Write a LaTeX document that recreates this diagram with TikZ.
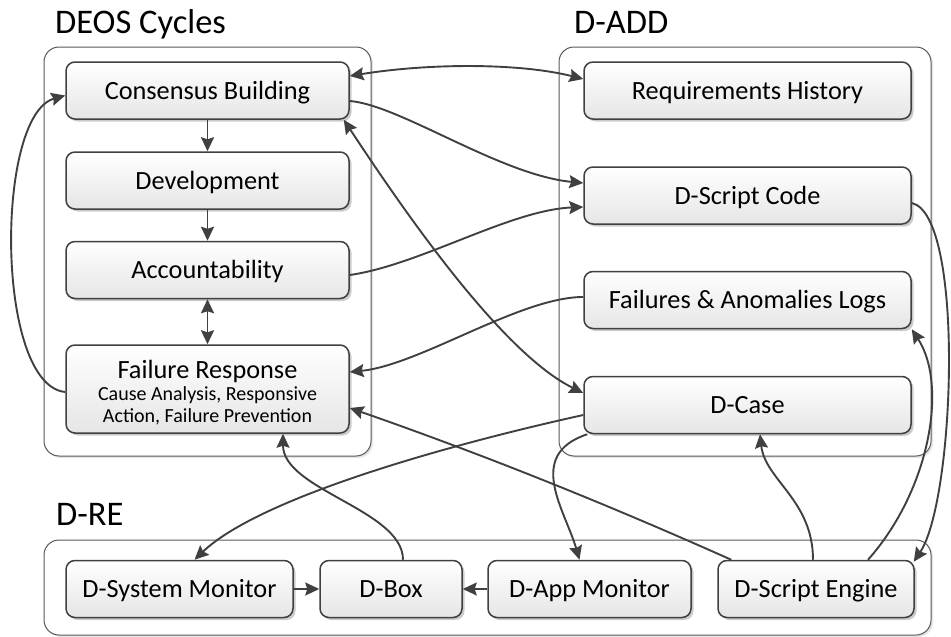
\documentclass[tikz,border=0pt]{standalone}
\usepackage{fontspec}
\setmainfont{Carlito}
\usetikzlibrary{arrows.meta,shadows,calc}
\definecolor{ln}{HTML}{404040}
\begin{document}
\begin{tikzpicture}[x=1pt,y=-1pt,
  box/.style={draw=ln, line width=1.5pt, rounded corners=9pt, top color=white, bottom color=black!10,
    drop shadow={shadow xshift=2.5pt, shadow yshift=-2.5pt, fill=black, opacity=0.2},
    inner sep=0pt, font=\fontsize{26.3}{28}\selectfont, text=black},
  onel/.style={text height=17.5pt, text depth=0pt},
  grp/.style={draw=black!65, line width=1pt, rounded corners=15pt, inner sep=0pt,
    drop shadow={shadow xshift=2pt, shadow yshift=-2pt, fill=black, opacity=0.1}, fill=white},
  conn/.style={draw=ln, line width=1.9pt, -{Stealth[length=14pt,width=13pt,inset=2pt]}},
  biconn/.style={draw=ln, line width=1.9pt, {Stealth[length=14pt,width=13pt,inset=2pt]}-{Stealth[length=14pt,width=13pt,inset=2pt]}},
  title/.style={font=\fontsize{34.5}{36}\selectfont, anchor=base west, inner sep=0pt}]
\useasboundingbox (0,0) rectangle (951,637);

% containers
\node[grp, minimum width=327, minimum height=409] (deos) at (207.5,251.5) {};
\node[grp, minimum width=372, minimum height=409] (dadd) at (745,251.5) {};
\node[grp, minimum width=887, minimum height=95] (dre) at (487.5,587.5) {};

% titles
\node[title] (tdeos) at (55,33) {DEOS Cycles};
\node[title] (tdadd) at (574,33) {D-ADD};
\node[title] (tdre) at (56,525) {D-RE};

% DEOS nodes
\node[box, onel, minimum width=283, minimum height=57] (CB) at (207.5,90.5) {Consensus Building};
\node[box, onel, minimum width=283, minimum height=57] (Dev) at (207.5,180.5) {Development};
\node[box, onel, minimum width=283, minimum height=57] (Acc) at (207.5,270) {Accountability};
\node[box, minimum width=283, minimum height=88, align=center, font=\fontsize{26.3}{22}\selectfont] (FR) at (207.5,389)
  {\rule{0pt}{25pt}Failure Response\\{\fontsize{20}{22}\selectfont Cause Analysis, Responsive}\\{\fontsize{20}{22}\selectfont Action, Failure Prevention}};

% D-ADD nodes
\node[box, onel, minimum width=327, minimum height=57] (RH) at (747.5,90.5) {Requirements History};
\node[box, onel, minimum width=327, minimum height=57] (DSC) at (747.5,195.5) {D-Script Code};
\node[box, onel, minimum width=327, minimum height=57] (FAL) at (747.5,300) {Failures \& Anomalies Logs};
\node[box, onel, minimum width=327, minimum height=57] (DC) at (747.5,405) {D-Case};

% D-RE nodes
\node[box, onel, minimum width=227, minimum height=57] (DSM) at (179.5,589) {D-System Monitor};
\node[box, onel, minimum width=142, minimum height=57] (DBox) at (391,589) {D-Box};
\node[box, onel, minimum width=203, minimum height=57] (DAM) at (589.5,589) {D-App Monitor};
\node[box, onel, minimum width=196, minimum height=57] (DSE) at (816,589) {D-Script Engine};

% connectors
\draw[biconn] ($(CB.east)+(0,-14.5)$) .. controls (430,63) and (520,63) .. ($(RH.west)+(0,-11.5)$);
\draw[conn] (CB.south) -- (Dev.north);
\draw[conn] (Dev.south) -- (Acc.north);
\draw[biconn] (Acc.south) -- (FR.north);
\draw[conn] ($(FR.west)+(0,3)$) .. controls (-5,385) and (-5,115) .. ($(CB.west)+(0,5)$);
\draw[conn] ($(CB.east)+(0,10.5)$) .. controls (400,105) and (500,175) .. ($(DSC.west)+(0,-12.5)$);
\draw[conn] ($(Acc.east)+(0,5)$) .. controls (420,265) and (510,210) .. ($(DSC.west)+(0,11.5)$);
\draw[conn] ($(FAL.west)+(0,-3)$) .. controls (520,297) and (420,365) .. ($(FR.east)+(0,-17)$);
\draw[biconn] ($(CB.south east)+(-6,0)$) .. controls (400,205) and (500,352) .. ($(DC.west)+(0,-12)$);
\draw[conn] ($(DC.west)+(0,10)$) .. controls (434,448) and (257,500) .. ($(DSM.north)+(15,0)$);
\draw[conn] ($(DC.south west)+(4,0)$) .. controls (525,455) and (565,510) .. ($(DAM.north)+(-10,0)$);
\draw[conn] ($(DSE.north west)+(14,0)$) .. controls (602,502) and (479,453) .. ($(FR.east)+(0,19)$);
\draw[conn] ($(DBox.north)+(12,0)$) .. controls (403,510) and (283,490) .. ($(FR.south)+(75.5,0)$);
\draw[conn] (DSM.east) -- (DBox.west);
\draw[conn] (DAM.west) -- (DBox.east);
\draw[conn] ($(DSE.north)+(-3,0)$) .. controls (813,500) and (765,480) .. ($(DC.south)+(12.5,0)$);
\draw[conn] ($(DSE.north)+(52,0)$) .. controls (930,490) and (948,385) .. (FAL.south east);
\draw[conn] ($(DSC.east)+(0,7.5)$) .. controls (965,215) and (955,500) .. ($(DSE.north east)+(-1,2)$);
\end{tikzpicture}
\end{document}
